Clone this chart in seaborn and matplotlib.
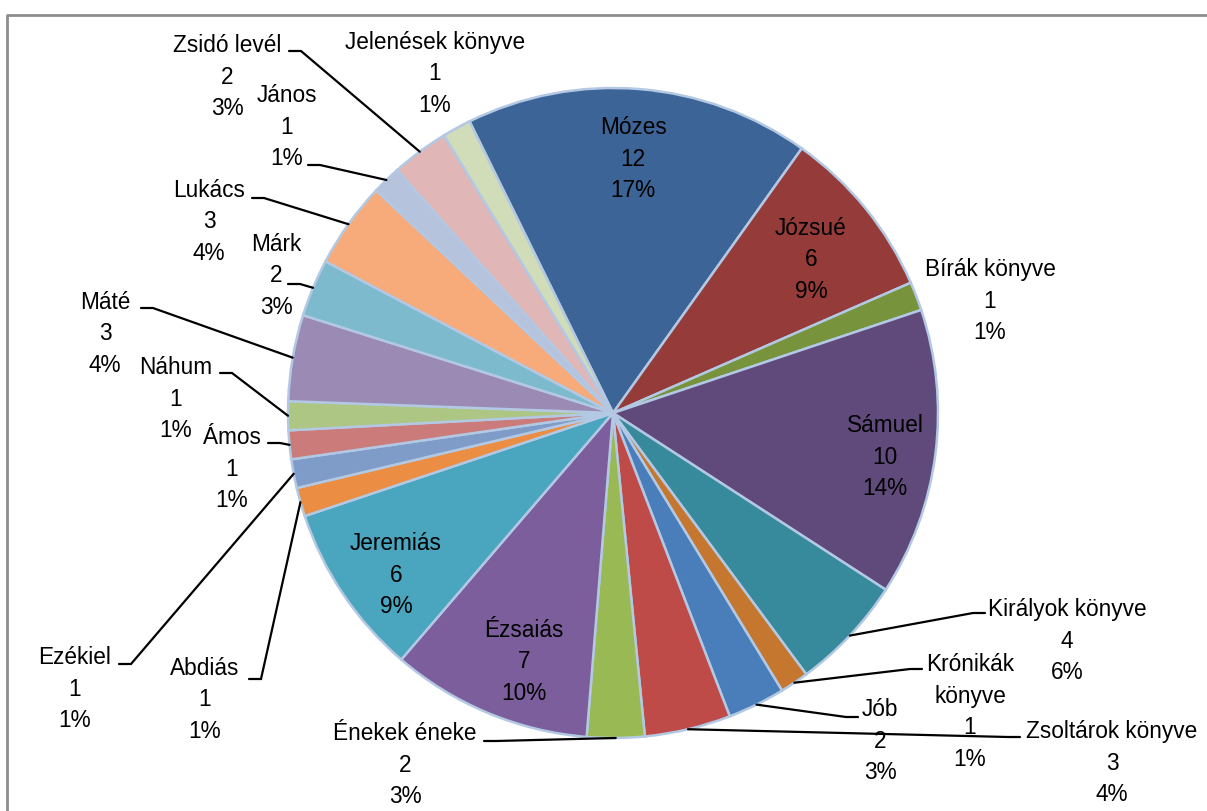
import matplotlib
matplotlib.use('Agg')
import matplotlib.pyplot as plt
import numpy as np
import seaborn as sns

# data (books of the Bible, count and share)
books = ['Mózes', 'Józsué', 'Bírák könyve', 'Sámuel', 'Királyok könyve',
         'Krónikák\nkönyve', 'Jób', 'Zsoltárok könyve', 'Énekek éneke',
         'Ézsaiás', 'Jeremiás', 'Abdiás', 'Ezékiel', 'Ámos', 'Náhum',
         'Máté', 'Márk', 'Lukács', 'János', 'Zsidó levél', 'Jelenések könyve']
counts = [12, 6, 1, 10, 4, 1, 2, 3, 2, 7, 6, 1, 1, 1, 1, 3, 2, 3, 1, 2, 1]
colors = ['#3C6496', '#953B39', '#77933C', '#604A7B', '#378A9C', '#C5772F',
          '#4A7EBB', '#BE4B48', '#98B954', '#7B5E9B', '#4AA5BE', '#EB8E43',
          '#7F9CC8', '#CB7C7A', '#AEC684', '#9B8AB3', '#7DBACE', '#F7AA7A',
          '#B5C3DD', '#E0B6B6', '#D1DCB8']

# label layout in pixels (text centre, start of leader line)
W, H = 1207, 811
CX, CY, R = 613, 413, 325
LINE = 31.5
label_pos = [(633, 159), (811, 260), (990, 301), (885, 457), (1067, 641),
             (970, 712), (880, 741), (1112, 763), (405, 765), (524, 662),
             (396, 575), (205, 700), (75, 689), (232, 469), (176, 399),
             (105, 334), (276, 276), (209, 222), (287, 127), (227, 77),
             (435, 74)]
leader_start = [None, None, None, None, (985, 613), (922, 669), (858, 717),
                (1020, 737), (484, 741), None, None, (249, 679), (119, 664),
                (268, 443), (220, 373), (141, 308), (288, 284), (252, 198),
                (308, 165), (289, 51), None]

sns.set_theme(style='white')
plt.rcParams['font.family'] = ['Liberation Sans', 'DejaVu Sans']


def px(x, y):
    return x, H - y


fig = plt.figure(figsize=(W / 100, H / 100), dpi=100)
ax = fig.add_axes([0, 0, 1, 1])

wedges, _ = ax.pie(counts, colors=colors, startangle=116.2, counterclock=False,
                   center=px(CX, CY), radius=R,
                   wedgeprops=dict(edgecolor='#B3C8E3', linewidth=1.8))
ax.set_xlim(0, W)
ax.set_ylim(0, H)
ax.set_aspect('equal')
ax.axis('off')

total = sum(counts)
for i, w in enumerate(wedges):
    pct = round(counts[i] / total * 100)
    lines = books[i].split('\n') + [str(counts[i]), f"{pct}%"]
    cx, cy = label_pos[i]
    top = cy - LINE * (len(lines) - 1) / 2
    for k, line in enumerate(lines):
        tx, ty = px(cx, top + k * LINE)
        ax.text(tx, ty, line, ha='center', va='center', fontsize=16.3,
                color='black')
    if leader_start[i] is not None:
        sx, sy = px(*leader_start[i])
        step = 12 if leader_start[i][0] < CX else -12
        mid = np.deg2rad((w.theta1 + w.theta2) / 2)
        ex = w.center[0] + R * np.cos(mid)
        ey = w.center[1] + R * np.sin(mid)
        ax.plot([sx, sx + step, ex], [sy, sy, ey], color='black', lw=1.6,
                solid_joinstyle='miter')

# chart area border
ax.plot([7, 7, W + 5], [-5, H - 15, H - 15], color='#8C8C8C', lw=2)

fig.savefig('out.png', dpi=100)
